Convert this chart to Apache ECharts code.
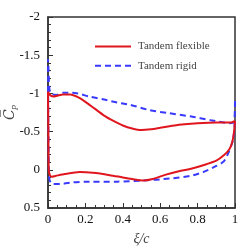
<!DOCTYPE html>
<html><head><meta charset="utf-8">
<script src="https://cdn.jsdelivr.net/npm/echarts@6/dist/echarts.min.js"></script>
<style>html,body{margin:0;padding:0;background:#fff}#c{width:250px;height:250px}</style>
</head><body><div id="c"></div>
<script>
const seriesNames = ['Tandem flexible', 'Tandem rigid'];
const xTicks = [0, 0.2, 0.4, 0.6, 0.8, 1];
const yTicks = [-2, -1.5, -1, -0.5, 0, 0.5];
// closed loops: upper surface (TE -> LE), then lower surface (LE -> TE)
const flexibleXi = [1.0, 0.98, 0.9, 0.8, 0.7, 0.65, 0.6, 0.55, 0.5, 0.45, 0.4, 0.35, 0.3, 0.25, 0.2, 0.16, 0.12, 0.08, 0.05, 0.03, 0.015, 0.005, 0.0,
  0.002, 0.004, 0.01, 0.02, 0.04, 0.09, 0.17, 0.24, 0.33, 0.4, 0.45, 0.51, 0.56, 0.635, 0.7, 0.76, 0.83, 0.9, 0.94, 0.97, 0.985, 0.995, 1.0];
const flexibleCp = [-0.64, -0.62, -0.62, -0.61, -0.59, -0.57, -0.55, -0.53, -0.52, -0.54, -0.58, -0.64, -0.71, -0.8, -0.89, -0.95, -0.985, -0.985, -0.97, -0.96, -0.97, -1.0, -1.02,
  -0.5, 0.0, 0.07, 0.09, 0.08, 0.055, 0.03, 0.04, 0.07, 0.1, 0.12, 0.14, 0.12, 0.06, 0.02, -0.01, -0.06, -0.12, -0.19, -0.27, -0.36, -0.5, -0.64];
const rigidXi = [1.0, 0.995, 0.97, 0.87, 0.76, 0.65, 0.545, 0.44, 0.37, 0.3, 0.22, 0.13, 0.08, 0.046, 0.02, 0.008, 0.003, 0.0,
  0.002, 0.006, 0.015, 0.028, 0.064, 0.134, 0.22, 0.37, 0.51, 0.65, 0.76, 0.83, 0.9, 0.94, 0.97, 0.99, 0.997, 1.0];
const rigidCp = [-0.9, -0.63, -0.61, -0.65, -0.7, -0.74, -0.78, -0.85, -0.88, -0.92, -0.96, -1.01, -1.01, -0.98, -0.99, -1.05, -1.3, -1.45,
  -0.5, 0.1, 0.17, 0.185, 0.185, 0.165, 0.155, 0.155, 0.14, 0.115, 0.08, 0.03, -0.05, -0.11, -0.25, -0.4, -0.55, -0.9];

const zip = (a, b) => a.map((v, i) => [v, b[i]]);
const font = '"Liberation Serif", "Times New Roman", serif';
const chart = echarts.init(document.getElementById('c'), null, {renderer: 'canvas'});
chart.setOption({
  animation: false,
  grid: {left: 48, right: 15, top: 17, bottom: 42, containLabel: false, outerBoundsMode: 'none',
    show: true, borderColor: '#333', borderWidth: 1.5, backgroundColor: 'transparent'},
  legend: {
    orient: 'vertical', left: 89, top: 36, itemWidth: 36, itemHeight: 14, itemGap: 8,
    data: seriesNames,
    itemStyle: {opacity: 0},
    textStyle: {fontFamily: font, fontSize: 11, color: '#444', padding: [0, 0, 0, 2]}
  },
  xAxis: {
    type: 'value', min: xTicks[0], max: xTicks[xTicks.length - 1], interval: 0.2,
    axisLine: {show: true, onZero: false, lineStyle: {color: '#333', width: 1.5}},
    axisTick: {inside: true, length: 5, lineStyle: {color: '#333'}},
    minorTick: {show: true, splitNumber: 4, length: 3, lineStyle: {color: '#333'}},
    splitLine: {show: false},
    axisLabel: {fontFamily: font, fontSize: 13, color: '#111', margin: 5,
      formatter: v => String(+v.toFixed(1))},
    name: 'ξ/c', nameLocation: 'middle', nameGap: 24, nameMoveOverlap: false,
    nameTextStyle: {fontFamily: font, fontSize: 14, fontStyle: 'italic', color: '#444'}
  },
  yAxis: {
    type: 'value', inverse: true, min: yTicks[0], max: yTicks[yTicks.length - 1], interval: 0.5,
    axisLine: {show: true, onZero: false, lineStyle: {color: '#333', width: 1.5}},
    axisTick: {inside: true, length: 5, lineStyle: {color: '#333'}},
    minorTick: {show: true, splitNumber: 5, length: 3, lineStyle: {color: '#333'}},
    splitLine: {show: false},
    axisLabel: {fontFamily: font, fontSize: 13, color: '#111', margin: 8,
      formatter: v => String(+v.toFixed(1))},
    name: '{c|C\u0305}{p|p}', nameLocation: 'middle', nameGap: 30, nameMoveOverlap: false,
    nameTextStyle: {
      color: '#444',
      rich: {
        c: {fontFamily: '"DejaVu Serif", serif', fontSize: 14, fontStyle: 'italic', color: '#444'},
        p: {fontFamily: font, fontSize: 9, fontStyle: 'italic', color: '#444', verticalAlign: 'bottom', padding: [6, 0, 0, 0]}
      }
    }
  },
  series: [
    {name: seriesNames[0], type: 'line', data: zip(flexibleXi, flexibleCp), symbol: 'none', smooth: 0.25,
      lineStyle: {color: '#e0161e', width: 2}, itemStyle: {color: '#e0161e'}, z: 3},
    {name: seriesNames[1], type: 'line', data: zip(rigidXi, rigidCp), symbol: 'none', smooth: 0.25,
      lineStyle: {color: '#3a3aff', width: 2, type: [6, 4]}, itemStyle: {color: '#3a3aff'}, z: 2}
  ]
});
</script></body></html>
